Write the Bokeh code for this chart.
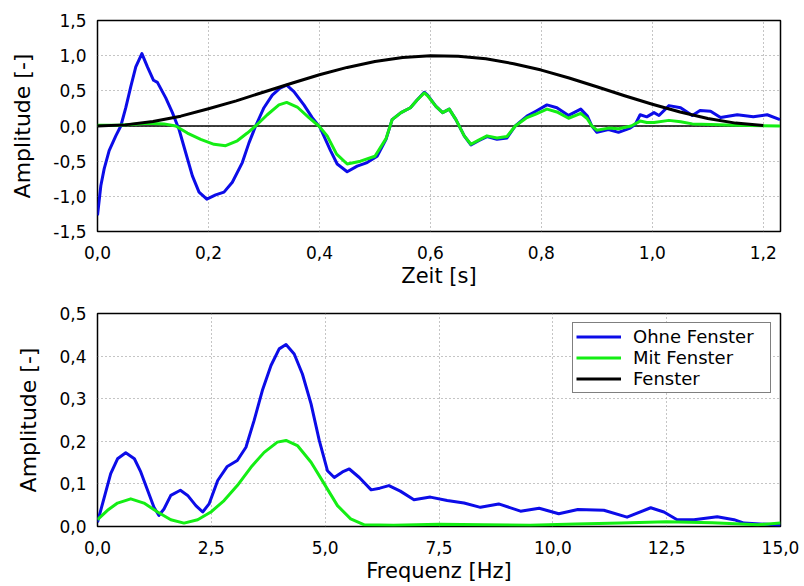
from bokeh.plotting import figure
from bokeh.layouts import column
from bokeh.models import Span, CustomJSTickFormatter, FixedTicker, Range1d
from bokeh.embed import file_html
from bokeh.resources import INLINE

# ---- time domain data ----
t_ohne = [0.000, 0.006, 0.012, 0.021, 0.033, 0.042, 0.051, 0.060, 0.069, 0.080, 0.090, 0.101,
          0.108, 0.123, 0.135, 0.147, 0.159, 0.171, 0.183, 0.197, 0.213, 0.228, 0.243, 0.261,
          0.273, 0.285, 0.300, 0.315, 0.329, 0.341, 0.354, 0.372, 0.387, 0.401, 0.420, 0.432,
          0.450, 0.468, 0.486, 0.504, 0.520, 0.531, 0.547, 0.564, 0.576, 0.589, 0.595, 0.610,
          0.622, 0.634, 0.646, 0.661, 0.673, 0.687, 0.702, 0.720, 0.738, 0.753, 0.774, 0.790,
          0.810, 0.828, 0.849, 0.871, 0.883, 0.891, 0.900, 0.921, 0.939, 0.960, 0.969, 0.978,
          0.990, 1.003, 1.012, 1.030, 1.051, 1.072, 1.086, 1.105, 1.123, 1.153, 1.182, 1.207, 1.230]
a_ohne = [-1.27, -0.85, -0.61, -0.35, -0.14, 0.00, 0.26, 0.56, 0.84, 1.03, 0.84, 0.65,
          0.62, 0.40, 0.19, -0.05, -0.38, -0.71, -0.94, -1.04, -0.98, -0.94, -0.80, -0.52,
          -0.24, 0.00, 0.26, 0.44, 0.54, 0.58, 0.49, 0.30, 0.12, -0.02, -0.35, -0.54,
          -0.65, -0.57, -0.52, -0.43, -0.19, 0.09, 0.19, 0.26, 0.37, 0.48, 0.44, 0.28,
          0.19, 0.24, 0.09, -0.14, -0.27, -0.21, -0.15, -0.19, -0.17, 0.00, 0.14, 0.21,
          0.30, 0.26, 0.15, 0.24, 0.14, 0.00, -0.09, -0.05, -0.09, -0.03, 0.02, 0.16,
          0.13, 0.19, 0.15, 0.29, 0.26, 0.15, 0.22, 0.21, 0.12, 0.16, 0.13, 0.16, 0.09]

t_mit = [0.000, 0.036, 0.060, 0.090, 0.120, 0.141, 0.162, 0.186, 0.210, 0.231, 0.252, 0.270,
         0.285, 0.306, 0.327, 0.341, 0.360, 0.381, 0.399, 0.414, 0.431, 0.450, 0.474, 0.500,
         0.520, 0.531, 0.547, 0.564, 0.576, 0.589, 0.595, 0.610, 0.622, 0.634, 0.646, 0.661,
         0.673, 0.687, 0.702, 0.720, 0.738, 0.753, 0.774, 0.790, 0.810, 0.828, 0.849, 0.871,
         0.883, 0.891, 0.900, 0.921, 0.939, 0.962, 0.978, 0.990, 1.003, 1.030, 1.051, 1.072,
         1.105, 1.150, 1.230]
a_mit = [0.01, 0.01, 0.02, 0.04, 0.03, 0.00, -0.10, -0.19, -0.26, -0.28, -0.21, -0.10,
         0.00, 0.16, 0.30, 0.335, 0.27, 0.12, 0.00, -0.14, -0.40, -0.54, -0.50, -0.43,
         -0.18, 0.09, 0.19, 0.26, 0.37, 0.47, 0.43, 0.28, 0.19, 0.24, 0.09, -0.14,
         -0.26, -0.20, -0.14, -0.17, -0.15, 0.00, 0.12, 0.17, 0.24, 0.20, 0.11, 0.18,
         0.10, 0.00, -0.06, -0.03, -0.04, 0.00, 0.07, 0.05, 0.05, 0.08, 0.06, 0.03,
         0.02, 0.01, 0.00]

t_fenster = [0.00, 0.05, 0.10, 0.15, 0.20, 0.25, 0.30, 0.35, 0.40, 0.45, 0.50, 0.55, 0.60,
             0.65, 0.70, 0.75, 0.80, 0.85, 0.90, 0.95, 1.00, 1.05, 1.10, 1.15, 1.20]
a_fenster = [0.000, 0.016, 0.064, 0.140, 0.245, 0.358, 0.483, 0.608, 0.728, 0.833, 0.916, 0.973,
             0.998, 0.992, 0.955, 0.886, 0.795, 0.683, 0.558, 0.430, 0.310, 0.199, 0.106, 0.041, 0.006]

# ---- frequency domain data ----
f_ohne = [0.00, 0.15, 0.29, 0.44, 0.62, 0.81, 0.95, 1.10, 1.24, 1.35, 1.46, 1.61, 1.82, 1.98,
          2.16, 2.31, 2.45, 2.64, 2.85, 3.07, 3.26, 3.44, 3.62, 3.81, 3.99, 4.14, 4.32, 4.50,
          4.69, 4.87, 5.05, 5.20, 5.38, 5.53, 5.75, 6.01, 6.20, 6.40, 6.65, 6.95, 7.31, 7.68,
          8.05, 8.41, 8.81, 9.29, 9.70, 10.13, 10.55, 11.12, 11.63, 12.15, 12.44, 12.73, 13.10,
          13.61, 13.98, 14.20, 14.71, 15.00]
s_ohne = [0.010, 0.069, 0.124, 0.159, 0.173, 0.159, 0.128, 0.085, 0.045, 0.026, 0.041, 0.073,
          0.085, 0.073, 0.049, 0.034, 0.053, 0.108, 0.141, 0.155, 0.186, 0.249, 0.319, 0.378,
          0.417, 0.427, 0.405, 0.358, 0.288, 0.202, 0.131, 0.115, 0.128, 0.135, 0.115, 0.086,
          0.090, 0.096, 0.083, 0.063, 0.069, 0.061, 0.055, 0.045, 0.053, 0.036, 0.043, 0.030,
          0.040, 0.038, 0.022, 0.044, 0.034, 0.016, 0.016, 0.023, 0.016, 0.008, 0.005, 0.003]

f_mit = [0.00, 0.22, 0.44, 0.73, 1.02, 1.32, 1.61, 1.90, 2.20, 2.49, 2.78, 3.07, 3.37, 3.66,
         3.95, 4.14, 4.39, 4.69, 4.98, 5.27, 5.56, 5.86, 6.50, 7.50, 8.50, 9.50, 10.50, 11.50,
         12.50, 13.50, 14.50, 15.00]
s_mit = [0.016, 0.038, 0.055, 0.065, 0.055, 0.034, 0.016, 0.008, 0.016, 0.034, 0.061, 0.096,
         0.139, 0.174, 0.198, 0.202, 0.190, 0.151, 0.100, 0.049, 0.018, 0.004, 0.003, 0.005,
         0.004, 0.003, 0.006, 0.008, 0.011, 0.009, 0.004, 0.008]

x_ticks_top = [0.0, 0.2, 0.4, 0.6, 0.8, 1.0, 1.2]
y_ticks_top = [-1.5, -1.0, -0.5, 0.0, 0.5, 1.0, 1.5]
x_ticks_bot = [0.0, 2.5, 5.0, 7.5, 10.0, 12.5, 15.0]
y_ticks_bot = [0.0, 0.1, 0.2, 0.3, 0.4, 0.5]

BLUE = "#0c0ce8"
GREEN = "#14ee14"
FONT = "DejaVu Sans"

fmt = CustomJSTickFormatter(code="return tick.toFixed(1).replace('.', ',');")


def style(p, xticks, yticks, xlabel, ylabel):
    p.xaxis.ticker = FixedTicker(ticks=xticks)
    p.yaxis.ticker = FixedTicker(ticks=yticks)
    p.xaxis.formatter = fmt
    p.yaxis.formatter = fmt
    for ax in (p.xaxis, p.yaxis):
        ax.major_tick_line_color = None
        ax.minor_tick_line_color = None
        ax.axis_line_color = None
        ax.major_label_text_font = FONT
        ax.major_label_text_font_size = "17px"
        ax.major_label_text_color = "black"
        ax.axis_label_text_font = FONT
        ax.axis_label_text_font_style = "normal"
        ax.axis_label_text_color = "black"
    p.xaxis.axis_label_text_font_size = "21px"
    p.yaxis.axis_label_text_font_size = "22px"
    p.xaxis.axis_label = xlabel
    p.yaxis.axis_label = ylabel
    p.xaxis.major_label_standoff = 8
    p.xaxis.axis_label_standoff = 2
    p.yaxis.major_label_standoff = 5
    p.yaxis.axis_label_standoff = 15
    p.grid.grid_line_color = "#8a8a8a"
    p.grid.grid_line_dash = "1 3"
    p.grid.grid_line_width = 1
    p.outline_line_color = "black"
    p.outline_line_width = 1.5
    p.outline_line_alpha = 1.0
    p.background_fill_color = "white"
    p.border_fill_color = "white"


p1 = figure(width=804, height=290, output_backend="svg", toolbar_location=None,
            x_range=Range1d(0, 1.231), y_range=Range1d(-1.5, 1.5),
            min_border_left=97, min_border_right=24, min_border_top=20, min_border_bottom=57)
style(p1, x_ticks_top, y_ticks_top, "Zeit [s]", "Amplitude [-]")
zero = Span(location=0, dimension="width", line_color="black", line_width=1.5, level="underlay")
p1.add_layout(zero)
p1.line(t_ohne, a_ohne, line_color=BLUE, line_width=3, line_join="round")
p1.line(t_mit, a_mit, line_color=GREEN, line_width=3, line_join="round")
p1.line(t_fenster, a_fenster, line_color="black", line_width=3, line_join="round")

p2 = figure(width=804, height=296, output_backend="svg", toolbar_location=None,
            x_range=Range1d(0, 15), y_range=Range1d(0, 0.5),
            min_border_left=97, min_border_right=24, min_border_top=23, min_border_bottom=60)
style(p2, x_ticks_bot, y_ticks_bot, "Frequenz [Hz]", "Amplitude [-]")
p2.line(f_ohne, s_ohne, line_color=BLUE, line_width=3, line_join="round", legend_label="Ohne Fenster")
p2.line(f_mit, s_mit, line_color=GREEN, line_width=3, line_join="round", legend_label="Mit Fenster")
# window entry for the legend only (no visible data in the spectrum plot)
p2.line(t_fenster, [float("nan")] * len(t_fenster), line_color="black", line_width=3,
        legend_label="Fenster")

lg = p2.legend[0]
lg.location = "top_right"
lg.margin = 9
lg.padding = 3
lg.spacing = 0
lg.label_text_font = FONT
lg.label_text_font_size = "18px"
lg.label_text_color = "black"
lg.label_height = 21
lg.glyph_height = 21
lg.glyph_width = 45
lg.label_width = 134
lg.label_standoff = 12
lg.border_line_color = "black"
lg.border_line_width = 1.5
lg.background_fill_alpha = 1.0
lg.background_fill_color = "white"

layout = column(p1, p2)
open("out.html", "w").write(file_html(layout, INLINE))
